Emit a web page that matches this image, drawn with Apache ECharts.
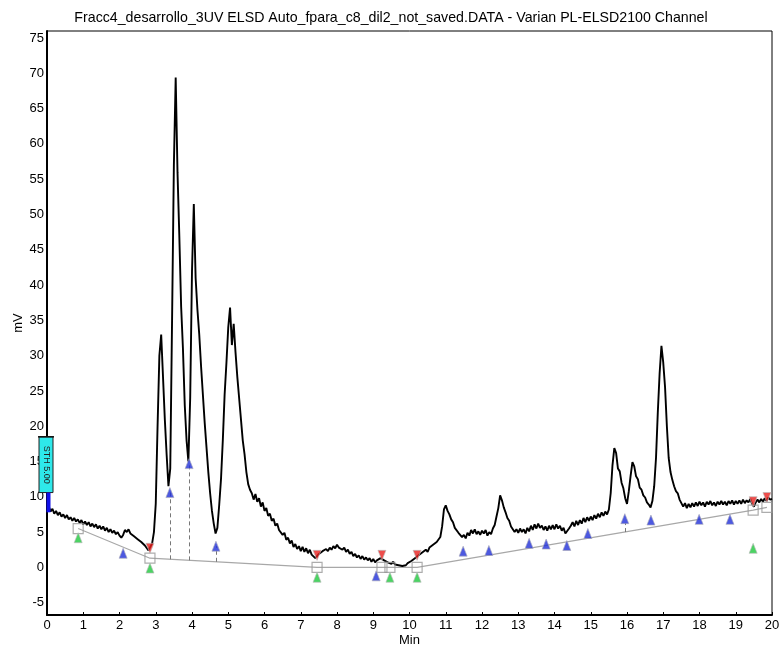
<!DOCTYPE html>
<html><head><meta charset="utf-8">
<script src="https://cdn.jsdelivr.net/npm/echarts@6/dist/echarts.min.js"></script>
<style>html,body{margin:0;padding:0;background:#fff}#c{width:782px;height:648px}</style>
</head><body><div id="c"></div>
<script>
const titleText = "Fracc4_desarrollo_3UV ELSD Auto_fpara_c8_dil2_not_saved.DATA - Varian PL-ELSD2100 Channel";
const startMin = 0, stepMin = 0.05;
const signalMv = [
8.0, 8.6, 7.9, 8.3, 7.6, 8.0, 7.4, 7.8, 7.2, 7.5, 7.0, 7.4, 6.8, 7.1, 6.6, 7.0, 6.5, 6.8, 6.3, 6.7,
6.1, 6.5, 6.0, 6.4, 5.8, 6.2, 5.7, 6.1, 5.5, 5.9, 5.4, 5.8, 5.2, 5.6, 5.0, 5.4, 4.9, 5.2, 4.7, 5.0,
4.5, 4.2, 4.6, 5.3, 5.0, 5.4, 4.8, 4.9, 4.4, 4.5, 4.0, 4.1, 3.6, 3.7, 3.1, 2.9, 2.4, 2.6, 3.4, 5.0,
9.0, 20, 30, 33, 27, 21, 16, 11.5, 14, 35, 57, 69.4, 56, 47, 37, 31, 23, 18, 15, 24,
42, 51.5, 41, 36.5, 33, 28.5, 24.5, 20.5, 17, 13.5, 10.5, 8, 6.2, 4.8, 5.6, 8.8, 12.5, 18, 24.5, 29,
34, 36.8, 31.5, 34.5, 30.5, 27, 24, 21, 18, 16, 13.5, 11.8, 11.0, 10.5, 9.6, 10.4, 9.3, 9.8, 8.6, 9.2,
8.0, 8.4, 7.3, 7.6, 6.6, 6.9, 5.9, 6.2, 5.3, 5.5, 4.6, 4.9, 3.9, 4.2, 3.4, 3.8, 2.9, 3.3, 2.6, 3.0,
2.3, 2.9, 2.2, 2.7, 2.0, 2.5, 1.8, 2.0, 1.3, 1.6, 1.9, 1.7, 2.3, 2.1, 2.6, 2.3, 2.8, 2.5, 3.0, 2.7,
3.2, 2.8, 3.0, 2.5, 2.8, 2.2, 2.5, 1.9, 2.2, 1.6, 1.9, 1.4, 1.7, 1.2, 1.6, 1.1, 1.4, 1.0, 1.3, 0.8,
1.2, 0.7, 1.0, 0.8, 1.3, 1.5, 1.0, 1.2, 0.7, 0.9, 0.5, 0.8, 0.4, 0.6, 0.3, 0.5, 0.2, 0.4, 0.3, 0.6,
0.4, 0.9, 0.7, 1.3, 1.1, 1.7, 1.5, 2.1, 1.9, 2.5, 2.2, 2.8, 2.6, 3.2, 3.0, 3.6, 3.6, 4.3, 5.8, 8.2,
8.8, 8.0, 7.5, 6.8, 6.4, 5.6, 5.8, 4.9, 5.1, 4.3, 4.6, 4.1, 4.9, 4.5, 5.3, 4.8, 5.4, 4.7, 5.1, 4.6,
5.2, 4.8, 5.3, 4.5, 5.0, 4.7, 5.5, 6.0, 7.2, 8.4, 10.2, 9.5, 8.5, 7.8, 7.0, 6.6, 5.8, 5.6, 5.0, 5.4,
4.9, 5.5, 5.0, 5.4, 4.8, 5.6, 5.1, 5.9, 5.3, 6.1, 5.5, 6.2, 5.6, 5.9, 5.3, 5.8, 5.2, 5.9, 5.4, 6.0,
5.4, 6.1, 5.5, 5.9, 5.2, 5.6, 4.8, 4.6, 5.5, 5.9, 6.4, 5.8, 6.6, 6.0, 6.7, 6.2, 7.0, 6.4, 7.1, 6.6,
7.2, 6.7, 7.4, 6.9, 7.6, 7.1, 7.8, 7.3, 7.9, 7.5, 8.2, 10.5, 14.5, 16.9, 16.2, 14.0, 13.6, 12.0, 11.2, 9.8,
9.0, 10.8, 13.0, 14.9, 14.3, 12.9, 12.5, 11.3, 11.0, 10.2, 9.9, 9.2, 8.9, 8.5, 9.4, 11.5, 15.5, 22, 27.5, 31.4,
29.0, 25.5, 20.0, 15.5, 13.5, 12.4, 11.5, 10.8, 10.5, 9.6, 9.4, 8.6, 9.1, 8.4, 9.0, 8.5, 9.1, 8.6, 9.2, 8.7,
9.3, 8.8, 9.2, 8.6, 9.3, 8.9, 9.4, 8.8, 9.2, 8.7, 9.3, 8.9, 9.4, 8.9, 9.3, 8.8, 9.4, 9.0, 9.5, 8.9,
9.4, 9.0, 9.5, 9.0, 9.6, 9.1, 9.5, 9.2, 9.7, 9.0, 8.6, 9.2, 9.6, 9.2, 9.7, 9.3, 9.8, 9.4, 9.9, 9.6,
9.7
];
const yTicks = [-5, 0, 5, 10, 15, 20, 25, 30, 35, 40, 45, 50, 55, 60, 65, 70, 75];
const baselineTime = [0.86, 2.84, 7.45, 10.21, 19.48, 19.86];
const baselineMv   = [5.5, 1.3, 0, 0, 8.1, 8.5];
const squareTime = [0.86, 2.84, 7.45, 9.24, 9.46, 10.21, 19.48, 19.86];
const squareMv   = [5.5, 1.3, 0, 0, 0, 0, 8.1, 8.5];
const redTime = [2.84, 7.45, 9.24, 10.21, 19.48, 19.86];
const redMv   = [2.7, 1.7, 1.7, 1.7, 9.3, 9.9];
const greenTime = [0.86, 2.84, 7.45, 9.46, 10.21, 19.48];
const greenMv   = [4.2, -0.1, -1.4, -1.4, -1.4, 2.7];
const blueTime = [2.10, 3.39, 3.92, 4.66, 9.08, 11.48, 12.19, 13.30, 13.77, 14.34, 14.92, 15.94, 16.66, 17.99, 18.84];
const blueMv   = [2.0, 10.6, 14.7, 3.0, -1.2, 2.3, 2.4, 3.4, 3.3, 3.1, 4.8, 6.9, 6.7, 6.8, 6.8];
const dropTime   = [3.39, 3.92, 4.66, 15.94];
const dropTopMv  = [10.6, 14.7, 3.0, 6.3];
const dropBaseMv = [1.14, 0.99, 0.79, 5.0];
const sthLabel = "STH 5.00";
const sthRangeMv = [18.5, 10.6];
const eventBarMv = [10.6, 7.8];

const FONT = "'Liberation Sans', Arial, sans-serif";
const pair = (ts, vs) => ts.map((t, i) => [t, vs[i]]);
const trace = signalMv.map((v, i) => [+(startMin + i * stepMin).toFixed(2), v]);

const chart = echarts.init(document.getElementById('c'));
chart.setOption({
  animation: false,
  title: { text: titleText, left: 'center', top: 11, padding: 0,
    textStyle: { fontFamily: FONT, fontSize: 14.2, fontWeight: 'normal', color: '#000' } },
  grid: { left: 47, right: 10, top: 31, bottom: 33, show: true, borderColor: '#000', borderWidth: 1,
    outerBoundsMode: 'none', containLabel: false },
  xAxis: { type: 'value', min: 0, max: 20, interval: 1,
    name: 'Min', nameLocation: 'middle', nameGap: 19, nameMoveOverlap: false,
    nameTextStyle: { fontFamily: FONT, fontSize: 13, color: '#000' },
    axisLine: { onZero: false, lineStyle: { color: '#000', width: 2 } },
    axisTick: { inside: true, length: 3, lineStyle: { color: '#000' } },
    axisLabel: { margin: 4, fontFamily: FONT, fontSize: 13, color: '#000' },
    splitLine: { show: false } },
  yAxis: { type: 'value', min: -6.75, max: 76,
    name: 'mV', nameLocation: 'middle', nameGap: 22, nameMoveOverlap: false,
    nameTextStyle: { fontFamily: FONT, fontSize: 13, color: '#000' },
    axisLine: { show: true, onZero: false, lineStyle: { color: '#000', width: 2 } },
    axisTick: { show: false },
    axisLabel: { customValues: yTicks, margin: 3, fontFamily: FONT, fontSize: 13, color: '#000' },
    splitLine: { show: false } },
  series: [
    { type: 'line', data: pair(baselineTime, baselineMv), symbol: 'none', silent: true, z: 2,
      lineStyle: { color: '#a8a8a8', width: 1.2 },
      markLine: { symbol: 'none', silent: true, label: { show: false },
        lineStyle: { color: '#777', type: [4, 3], width: 1 },
        data: dropTime.map((t, i) => [{ coord: [t, dropBaseMv[i]] }, { coord: [t, dropTopMv[i]] }]) } },
    { type: 'line', data: trace, symbol: 'none', silent: true, z: 3,
      lineStyle: { color: '#000', width: 1.9 } },
    { type: 'scatter', data: pair(squareTime, squareMv), symbol: 'rect', symbolSize: 10, z: 4,
      itemStyle: { color: 'rgba(255,255,255,0)', borderColor: '#999', borderWidth: 1.2 } },
    { type: 'scatter', data: pair(redTime, redMv), symbol: 'triangle', symbolRotate: 180, symbolSize: [8, 10], z: 5,
      itemStyle: { color: '#e8201e', borderColor: '#bbb', borderWidth: 0.8 } },
    { type: 'scatter', data: pair(greenTime, greenMv), symbol: 'triangle', symbolSize: [8, 10], z: 5,
      itemStyle: { color: '#1ec83c', borderColor: '#bbb', borderWidth: 0.8 } },
    { type: 'scatter', data: pair(blueTime, blueMv), symbol: 'triangle', symbolSize: [8, 10], z: 5,
      itemStyle: { color: '#2030d8', borderColor: '#aab', borderWidth: 0.8 } }
  ]
});

const pTop = chart.convertToPixel({ gridIndex: 0 }, [0, sthRangeMv[0]]);
const pBot = chart.convertToPixel({ gridIndex: 0 }, [0, sthRangeMv[1]]);
const bTop = chart.convertToPixel({ gridIndex: 0 }, [0, eventBarMv[0]]);
const bBot = chart.convertToPixel({ gridIndex: 0 }, [0, eventBarMv[1]]);
chart.setOption({
  graphic: [
    { type: 'rect', z: 100, shape: { x: pTop[0] - 8, y: pTop[1], width: 14, height: pBot[1] - pTop[1] },
      style: { fill: '#2ee8ea', stroke: '#222', lineWidth: 1 } },
    { type: 'line', z: 101, shape: { x1: pTop[0] - 9, y1: pTop[1], x2: pTop[0] + 7, y2: pTop[1] },
      style: { stroke: '#111', lineWidth: 1.5 } },
    { type: 'text', z: 102, x: pTop[0] - 1, y: (pTop[1] + pBot[1]) / 2, rotation: -Math.PI / 2,
      style: { text: sthLabel, fill: '#222', font: "9px " + FONT, align: 'center', verticalAlign: 'middle' } },
    { type: 'rect', z: 100, shape: { x: bTop[0] - 0.5, y: bTop[1], width: 4, height: bBot[1] - bTop[1] },
      style: { fill: '#1010e8' } }
  ]
});
</script>
</body></html>
